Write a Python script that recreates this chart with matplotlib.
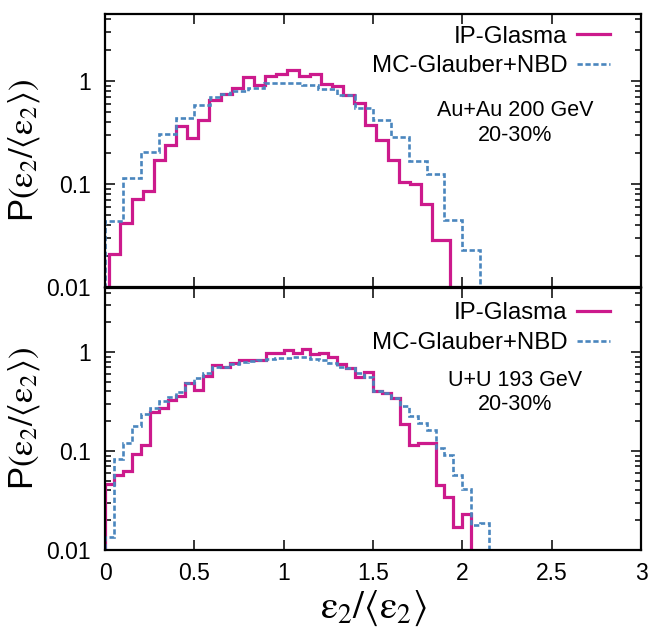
import numpy as np
import matplotlib
matplotlib.use("Agg")
import matplotlib.pyplot as plt
from matplotlib.lines import Line2D
from matplotlib.ticker import FixedLocator, FuncFormatter, LogLocator, NullFormatter

plt.rcParams['font.family'] = ['Liberation Sans', 'DejaVu Sans']
plt.rcParams['mathtext.fontset'] = 'stix'

# ---------------- data ----------------
# Top panel: Au+Au 200 GeV, 20-30%
ipg_auau_edges = list(np.round(0.024 + 0.0623 * np.arange(30), 4)) + [1.933]
ipg_auau_vals = [0.0213, 0.0426, 0.0716, 0.0855, 0.173, 0.242, 0.364, 0.281, 0.423, 0.661,
                 0.755, 0.863, 1.09, 0.923, 1.11, 1.16, 1.27, 1.11, 1.18, 0.94,
                 0.89, 0.738, 0.612, 0.373, 0.267, 0.173, 0.105, 0.100, 0.064, 0.0287]
mcg_auau_edges = [0, 0.1, 0.2, 0.3, 0.4, 0.5, 0.59, 0.65, 0.7, 0.8, 0.89, 1.1, 1.19,
                  1.3, 1.4, 1.5, 1.6, 1.7, 1.8, 1.9, 2.0, 2.1]
mcg_auau_vals = [0.044, 0.116, 0.203, 0.305, 0.44, 0.58, 0.70, 0.755, 0.795, 0.863,
                 0.956, 0.908, 0.844, 0.727, 0.552, 0.417, 0.285, 0.166, 0.127, 0.0448, 0.023]

# Bottom panel: U+U 193 GeV, 20-30%
ipg_uu_edges = list(np.round(0.05 * np.arange(42), 3))
ipg_uu_vals = [0.046, 0.057, 0.063, 0.093, 0.114, 0.251, 0.275, 0.329, 0.364, 0.485,
               0.415, 0.575, 0.743, 0.705, 0.773, 0.836, 0.836, 0.836, 0.99, 0.99,
               1.055, 0.977, 1.08, 0.955, 0.977, 0.89, 0.756, 0.689, 0.558, 0.628,
               0.406, 0.385, 0.342, 0.186, 0.115, 0.122, 0.122, 0.0454, 0.0346, 0.0172,
               0.0229]
mcg_uu_edges = list(np.round(0.05 * np.arange(44), 3))
mcg_uu_vals = [0.0136, 0.083, 0.12, 0.181, 0.237, 0.271, 0.321, 0.356, 0.394, 0.485,
               0.553, 0.622, 0.715, 0.715, 0.762, 0.803, 0.82, 0.836, 0.85, 0.87,
               0.88, 0.89, 0.89, 0.85, 0.836, 0.785, 0.715, 0.689, 0.612, 0.567,
               0.406, 0.385, 0.342, 0.286, 0.225, 0.194, 0.162, 0.107, 0.0913, 0.0573,
               0.041, 0.0179, 0.0188]

series_labels = ['IP-Glasma', 'MC-Glauber+NBD']
panel_texts = ['Au+Au 200 GeV\n20-30%', 'U+U 193 GeV\n20-30%']
xticks = [0, 0.5, 1, 1.5, 2, 2.5, 3]
yticks = [0.01, 0.1, 1]

# ---------------- style ----------------
PINK = '#CC1A8C'
BLUE = '#4A86BE'
W, H = 663, 627

fig = plt.figure(figsize=(W / 100, H / 100), dpi=100)
ax1 = fig.add_axes([105 / W, 1 - 287.5 / H, 536 / W, 274 / H])
ax2 = fig.add_axes([105 / W, 1 - 550 / H, 536 / W, 262.5 / H])

panels = [
    (ax1, ipg_auau_edges, ipg_auau_vals, mcg_auau_edges, mcg_auau_vals, panel_texts[0], 0.956),
    (ax2, ipg_uu_edges, ipg_uu_vals, mcg_uu_edges, mcg_uu_vals, panel_texts[1], 0.943),
]

ylab = r'P$(\mathrm{\varepsilon}_2/\langle\mathrm{\varepsilon}_2\rangle)$'
dash = (0, (2.0, 1.0))

for ax, pe, pv, be, bv, txt, legy in panels:
    ax.set_yscale('log')
    ax.stairs(pv, pe, baseline=1e-4, color=PINK, lw=2.3, zorder=3)
    ax.stairs(bv, be, baseline=1e-4, color=BLUE, lw=1.9, linestyle=dash, zorder=4)
    ax.set_xlim(0, 3)
    ax.set_ylim(0.01, 4.5)
    ax.xaxis.set_major_locator(FixedLocator(xticks))
    ax.yaxis.set_major_locator(FixedLocator(yticks))
    ax.yaxis.set_minor_locator(LogLocator(base=10, subs=np.arange(2, 10)))
    ax.yaxis.set_minor_formatter(NullFormatter())
    ax.yaxis.set_major_formatter(FuncFormatter(
        lambda v, p: {0.01: '0.01', 0.1: '0.1', 1.0: '1'}.get(round(v, 3), '')))
    ax.xaxis.set_major_formatter(FuncFormatter(lambda v, p: ('%g' % v)))
    ax.tick_params(which='both', direction='in', top=True, right=True, width=1.1)
    ax.tick_params(which='major', length=7, labelsize=16.5, pad=10)
    ax.tick_params(which='minor', length=4)
    ax.tick_params(axis='x', pad=9)
    for s in ax.spines.values():
        s.set_visible(True)
        s.set_color('black')
        s.set_linewidth(1.6)
        s.set_zorder(5)
    ax.set_ylabel(ylab, fontsize=25)
    ax.yaxis.set_label_coords(-0.118, 0.5)
    handles = [Line2D([], [], color=PINK, lw=2.3),
               Line2D([], [], color=BLUE, lw=1.9, linestyle=dash)]
    ax.legend(handles, series_labels, loc='upper right', bbox_to_anchor=(0.943, legy),
              frameon=False, markerfirst=False, fontsize=17.3, handlelength=1.4,
              handletextpad=0.4, labelspacing=0.33, borderpad=0, borderaxespad=0)
    ax.text(0.765, 0.60, txt, transform=ax.transAxes, ha='center', va='center',
            fontsize=15.5, linespacing=1.25)

ax1.tick_params(axis='x', labelbottom=False)
ax2.set_xlabel(r'$\mathrm{\varepsilon}_2/\langle\mathrm{\varepsilon}_2\rangle$', fontsize=28, labelpad=2)

fig.savefig('out.png', dpi=100)
